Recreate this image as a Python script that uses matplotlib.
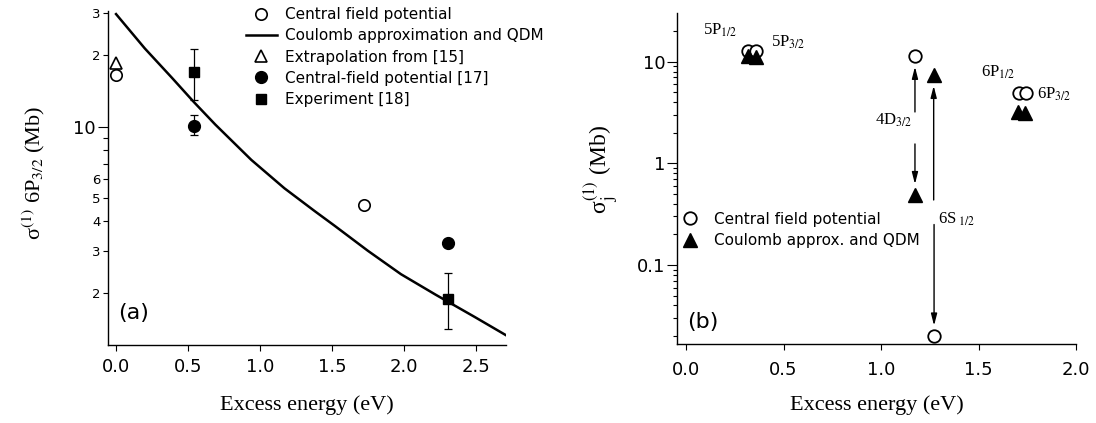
import numpy as np
import matplotlib
matplotlib.use('Agg')
import matplotlib.pyplot as plt

plt.rcParams['font.family'] = 'DejaVu Sans'
plt.rcParams['mathtext.fontset'] = 'stix'
SERIF = 'Liberation Serif'

# ---- (a) sigma(1) for 6P3/2 vs excess energy ----
qdm_e = [0.0, 0.2, 0.39, 0.54, 0.69, 0.94, 1.17, 1.38, 1.52, 1.75, 1.98, 2.22, 2.49, 2.71]
qdm_s = [29.7, 21.3, 16.0, 12.7, 10.2, 7.25, 5.51, 4.42, 3.83, 3.01, 2.40, 1.97, 1.59, 1.33]

cfp_e = [0.0, 1.72]
cfp_s = [16.5, 4.69]

extrap_e = [0.0]
extrap_s = [18.5]

cfp17_e = [0.54, 2.31]
cfp17_s = [10.1, 3.26]
cfp17_bar_e = [0.54]
cfp17_bar_s = [10.1]
cfp17_lo = [9.2]
cfp17_hi = [11.2]

exp_e = [0.54, 2.31]
exp_s = [17.0, 1.89]
exp_lo = [13.0, 1.41]
exp_hi = [21.1, 2.42]

# ---- (b) sigma_j(1) for each level ----
cf_e = [0.318, 0.359, 1.174, 1.272, 1.71, 1.744]
cf_s = [12.7, 12.7, 11.4, 0.0198, 4.88, 4.88]
ca_e = [0.318, 0.359, 1.174, 1.270, 1.70, 1.74]
ca_s = [11.4, 11.0, 0.488, 7.4, 3.22, 3.15]

W, H = 1096, 423
fig = plt.figure(figsize=(W / 100, H / 100), dpi=100)
axa = fig.add_axes([107.7 / W, 1 - 345 / H, 398.3 / W, 334 / H])
axb = fig.add_axes([677.3 / W, 1 - 344 / H, 398.7 / W, 330.7 / H])

for ax in (axa, axb):
    ax.set_yscale('log')
    for s in ('top', 'right'):
        ax.spines[s].set_visible(False)
    for s in ('left', 'bottom'):
        ax.spines[s].set_linewidth(1.0)
    ax.tick_params(which='both', direction='out', width=0.8)

# panel (a)
h_cfp, = axa.plot(cfp_e, cfp_s, 'o', ms=8.2, mfc='white', mec='black', mew=1.2, ls='none')
h_qdm, = axa.plot(qdm_e, qdm_s, '-', color='black', lw=1.8)
h_ext, = axa.plot(extrap_e, extrap_s, '^', ms=8, mfc='white', mec='black', mew=1.2, ls='none')
axa.errorbar(cfp17_bar_e, cfp17_bar_s,
             yerr=[np.subtract(cfp17_bar_s, cfp17_lo), np.subtract(cfp17_hi, cfp17_bar_s)],
             fmt='none', ecolor='black', elinewidth=0.9, capsize=3, capthick=0.9)
axa.errorbar(exp_e, exp_s,
             yerr=[np.subtract(exp_s, exp_lo), np.subtract(exp_hi, exp_s)],
             fmt='none', ecolor='black', elinewidth=0.9, capsize=3, capthick=0.9)
h_c17, = axa.plot(cfp17_e, cfp17_s, 'o', ms=8.5, color='black', ls='none')
h_exp, = axa.plot(exp_e, exp_s, 's', ms=7, color='black', ls='none')

axa.set_xlim(-0.058, 2.71)
axa.set_ylim(1.21, 30.6)
axa.set_xticks([0, 0.5, 1.0, 1.5, 2.0, 2.5], ['0.0', '0.5', '1.0', '1.5', '2.0', '2.5'])
axa.set_yticks([10], ['10'])
axa.set_yticks([2, 3, 4, 5, 6, 7, 8, 9, 20, 30],
               ['2', '3', '4', '5', '6', '', '', '', '2', '3'], minor=True)
axa.tick_params(axis='x', length=4, pad=5, labelsize=13)
axa.tick_params(axis='y', which='major', length=7, pad=1.5, labelsize=13)
axa.tick_params(axis='y', which='minor', length=3.5, pad=1.5, labelsize=9.5)

axa.set_xlabel('Excess energy (eV)', family=SERIF, fontsize=16)
axa.xaxis.set_label_coords(0.5, -0.150)
axa.set_ylabel('σ$^{(1)}$ 6P$_{3/2}$ (Mb)', family=SERIF, fontsize=16, va='center')
axa.yaxis.set_label_coords(-0.185, 0.516)
axa.text(0.027, 0.095, '(a)', transform=axa.transAxes, fontsize=16, va='center')

axa.legend([h_cfp, h_qdm, h_ext, h_c17, h_exp],
           ['Central field potential', 'Coulomb approximation and QDM',
            'Extrapolation from [15]', 'Central-field potential [17]', 'Experiment [18]'],
           loc='upper left', bbox_to_anchor=(246 / W, 1 - 7 / H), bbox_transform=fig.transFigure,
           frameon=False, fontsize=11, handlelength=2.0, handletextpad=0.55,
           labelspacing=0.41, borderpad=0, borderaxespad=0)

# panel (b)
h_cf, = axb.plot(cf_e, cf_s, 'o', ms=9, mfc='white', mec='black', mew=1.3, ls='none', zorder=3)
h_ca, = axb.plot(ca_e, ca_s, '^', ms=9.5, color='black', ls='none', zorder=3)

arrow = dict(arrowstyle='-|>,head_length=0.7,head_width=0.18', color='black', lw=1.0,
             mutation_scale=10, shrinkA=0, shrinkB=0)
gap = 1.28
# 4D3/2: arrows from the label out to both points
axb.annotate('', xy=(cf_e[2], cf_s[2] / gap), xytext=(cf_e[2], 3.2), arrowprops=arrow)
axb.annotate('', xy=(ca_e[2], ca_s[2] * gap), xytext=(ca_e[2], 1.55), arrowprops=arrow)
# 6S1/2
axb.annotate('', xy=(ca_e[3], ca_s[3] / gap), xytext=(ca_e[3], 0.436), arrowprops=arrow)
axb.annotate('', xy=(cf_e[3], cf_s[3] * gap), xytext=(cf_e[3], 0.25), arrowprops=arrow)

lab = dict(family=SERIF, fontsize=12, va='baseline', ha='left')
axb.text(0.086, 18.3, '5P$_{1/2}$', **lab)
axb.text(0.434, 14.0, '5P$_{3/2}$', **lab)
axb.text(0.969, 2.38, '4D$_{3/2}$', **lab)
axb.text(1.292, 0.255, '6S$_{\\ 1/2}$', **lab)
axb.text(1.511, 7.12, '6P$_{1/2}$', **lab)
axb.text(1.798, 4.37, '6P$_{3/2}$', **lab)

axb.set_xlim(-0.045, 2.0)
axb.set_ylim(0.0167, 29.9)
axb.set_xticks([0, 0.5, 1.0, 1.5, 2.0], ['0.0', '0.5', '1.0', '1.5', '2.0'])
axb.set_yticks([0.1, 1, 10], ['0.1', '1', '10'])
axb.yaxis.set_minor_locator(matplotlib.ticker.LogLocator(base=10, subs=np.arange(2, 10)))
axb.yaxis.set_minor_formatter(matplotlib.ticker.NullFormatter())
axb.tick_params(axis='x', length=4, pad=8, labelsize=13)
axb.tick_params(axis='y', which='major', length=7, pad=1.5, labelsize=13)
axb.tick_params(axis='y', which='minor', length=3)

axb.set_xlabel('Excess energy (eV)', family=SERIF, fontsize=16)
axb.xaxis.set_label_coords(0.5, -0.154)
axb.set_ylabel('σ$_{\\mathrm{j}}^{(1)}$ (Mb)', family=SERIF, fontsize=17, va='center')
axb.yaxis.set_label_coords(-0.189, 0.529)
axb.text(0.024, 0.067, '(b)', transform=axb.transAxes, fontsize=16, va='center')

axb.legend([h_cf, h_ca], ['Central field potential', 'Coulomb approx. and QDM'],
           loc='upper left', bbox_to_anchor=(675 / W, 1 - 211.5 / H), bbox_transform=fig.transFigure,
           frameon=False, fontsize=11, handlelength=2.0, handletextpad=0.55,
           labelspacing=0.45, borderpad=0, borderaxespad=0)

fig.savefig('out.png', dpi=100)
